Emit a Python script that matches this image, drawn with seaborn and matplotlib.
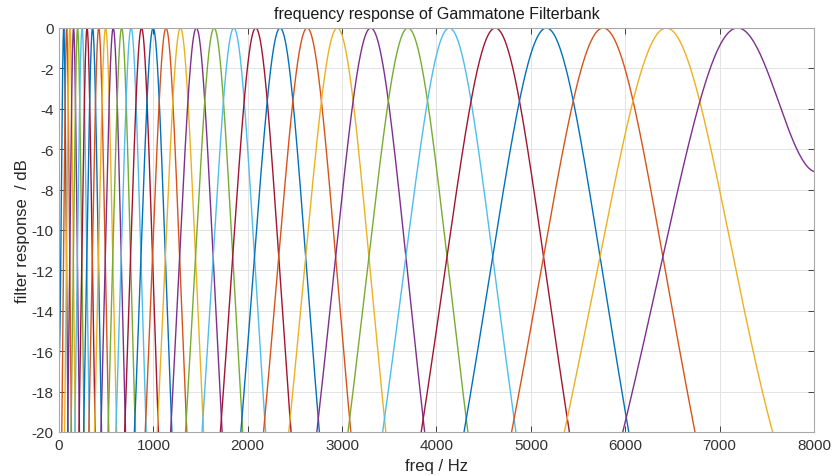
import numpy as np
import pandas as pd
import matplotlib
matplotlib.use("Agg")
import matplotlib.pyplot as plt
import seaborn as sns

# Center frequencies (Hz) of the 32 gammatone filters, read from the peaks
center_freqs = [50.0, 81.1, 115.7, 154.2, 196.9, 244.4, 297.2, 355.9,
                421.2, 493.7, 574.3, 664.0, 763.5, 874.3, 997.5, 1134.2,
                1286.4, 1455.3, 1643.4, 1852.3, 2084.5, 2342.6, 2629.5, 2948.8,
                3303.2, 3697.3, 4135.4, 4622.8, 5164.1, 5765.8, 6434.6, 7179.2]
sample_rate = 16000
filter_order = 4
x_ticks = [0, 1000, 2000, 3000, 4000, 5000, 6000, 7000, 8000]
y_ticks = [0, -2, -4, -6, -8, -10, -12, -14, -16, -18, -20]

matlab_colors = ["#0072BD", "#D95319", "#EDB120", "#7E2F8E",
                 "#77AC30", "#4DBEEE", "#A2142F"]

freq = np.linspace(0, sample_rate / 2, 8001)
rows = []
for i, fc in enumerate(center_freqs):
    b = 1.019 * 24.7 * (4.37 * fc / 1000 + 1)

    def mag(f, c):
        return (1 + ((f - c) / b) ** 2) ** (-filter_order / 2)

    h = mag(freq, fc) + mag(freq, -fc) + 0.85 * mag(freq, sample_rate - fc)
    peak = mag(fc, fc) + mag(fc, -fc) + 0.85 * mag(fc, sample_rate - fc)
    db = 20 * np.log10(h / peak)
    rows.append(pd.DataFrame({"freq": freq, "dB": db, "filter": i}))
df = pd.concat(rows, ignore_index=True)

sns.set_style("white")
plt.rcParams["font.family"] = ["Liberation Sans", "DejaVu Sans"]
plt.rcParams["axes.unicode_minus"] = False

fig = plt.figure(figsize=(8.33, 4.77), dpi=100)
ax = fig.add_axes([59 / 833, 1 - 433 / 477, (814 - 59) / 833, (433 - 29) / 477])

palette = [matlab_colors[i % 7] for i in range(len(center_freqs))]
sns.lineplot(data=df, x="freq", y="dB", hue="filter", palette=palette,
             estimator=None, legend=False, linewidth=1.0, ax=ax)

ax.set_xlim(0, 8000)
ax.set_ylim(-20, 0)
ax.set_xticks(x_ticks)
ax.set_yticks(y_ticks)
ax.grid(True, color="#e3e3e3", linewidth=0.7)
ax.set_axisbelow(True)
for s in ax.spines.values():
    s.set_visible(True)
    s.set_color("#a8a8a8")
    s.set_linewidth(0.8)
ax.tick_params(direction="in", length=4, width=0.7, color="#404040",
               labelsize=11, labelcolor="#333333",
               top=True, right=True, bottom=True, left=True, pad=4)
ax.set_xlabel("freq / Hz", fontsize=12, color="#262626", labelpad=5)
ax.set_ylabel("filter response  / dB", fontsize=12, color="#262626", labelpad=1)
ax.set_title("frequency response of Gammatone Filterbank", fontsize=11.5,
             color="#1a1a1a", pad=7)

fig.savefig("out.png", dpi=100)
